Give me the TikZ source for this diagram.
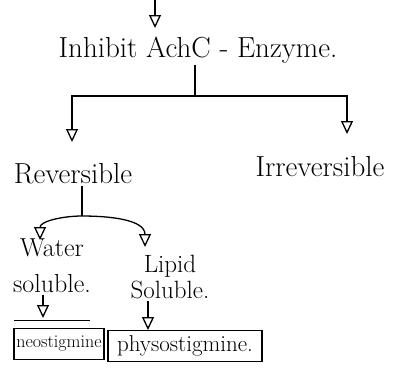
\documentclass[tikz,border=0pt]{standalone}
\usetikzlibrary{arrows.meta}
\begin{document}
\begin{tikzpicture}[x=1pt,y=-1pt,line width=1.3pt,
  tip/.style={-{Triangle[open,length=13pt,width=12pt,line width=1.3pt]}},
  big/.style={font=\fontsize{29}{33}\selectfont,inner sep=1pt},
  mid/.style={font=\fontsize{26}{36}\selectfont,inner sep=1pt,align=center},
  drugbox/.style={draw,inner sep=2pt,minimum height=31pt}]
\useasboundingbox (0,0) rectangle (398,372);
% top level
\coordinate (top) at (155,0);
\coordinate (topend) at (155,28);
\node[big] (inh) at (198,50) {Inhibit AchC - Enzyme.};
\draw[tip] (top) -- (topend);
% first split
\coordinate (j) at (195,96);
\node[big] (rev) at (73,174) {Reversible};
\node[big] (irr) at (320,167) {Irreversible};
\coordinate (revend) at (72,142);
\coordinate (irrend) at (347,134);
\draw (inh.south -| j) -- (j);
\draw[tip] (j) -| (revend);
\draw[tip] (j) -| (irrend);
% second split
\coordinate (k) at (82,216);
\coordinate (waterend) at (40,240);
\coordinate (lipidend) at (145,247);
\draw (rev.south -| k) -- (k);
\draw[tip] (k) to[out=180,in=90] (waterend);
\draw[tip] (k) to[out=0,in=90] (lipidend);
\node[mid] (water) at (52,266) {Water\\soluble.};
\node[mid,font=\fontsize{25}{26}\selectfont] (lipid) at (170,277) {Lipid\\Soluble.};
% drugs
\node[drugbox,minimum width=90pt,font=\fontsize{18}{20}\selectfont] (neo) at (59,344) {neostigmine};
\node[drugbox,minimum width=154pt,font=\fontsize{23}{26}\selectfont] (phy) at (185,346) {physostigmine.};
\coordinate (neoend) at (43,318);
\coordinate (phyend) at (148,330);
\draw[tip] (water.south -| neoend) -- (neoend);
\draw[tip] (lipid.south -| phyend) -- (phyend);
\draw[line width=0.8pt] (14,320) -- (90,320);
\end{tikzpicture}
\end{document}
